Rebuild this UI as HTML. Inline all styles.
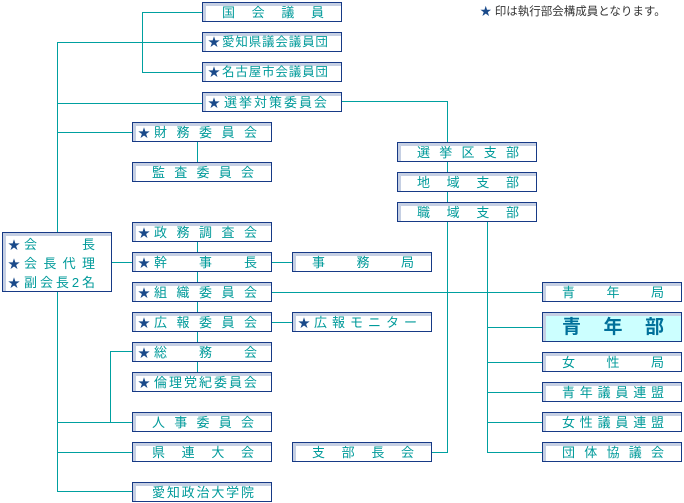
<!DOCTYPE html>
<html><head><meta charset="utf-8"><style>
body{margin:0;width:684px;height:503px;background:#fff;position:relative;overflow:hidden;font-family:"Liberation Sans","Noto Sans CJK JP",sans-serif;}
.b{position:absolute;box-sizing:border-box;width:140px;height:20px;border:1px solid #173a86;box-shadow:inset 3px 3px 0 #c5cfe3;background:#fff;display:flex;justify-content:space-between;align-items:center;font-size:13px;color:#009a9a;line-height:1;}
.b span{white-space:nowrap}
.b i{font-style:normal;color:#1a4a8a;font-size:12px;margin-right:4px}
.s{padding:1px 14px 0 5px}
.t{padding:1px 13px 0 5px;font-size:12.5px}
.t i{margin-right:2px}
.n{padding:1px 17px 0 19px}
.h{position:absolute;height:1px;background:#00a0a0}
.v{position:absolute;width:1px;background:#00a0a0}
</style></head><body>
<div style="position:absolute;left:480px;top:3px;font-size:11.5px;color:#333"><span style="color:#1a4a8a">★</span> 印は執行部会構成員となります。</div>

<div class="v" style="left:142px;top:12px;height:61px"></div>
<div class="h" style="left:142px;top:12px;width:60px"></div>
<div class="h" style="left:142px;top:72px;width:60px"></div>
<div class="v" style="left:57px;top:42px;height:190px"></div>
<div class="h" style="left:57px;top:42px;width:145px"></div>
<div class="h" style="left:57px;top:103px;width:145px"></div>
<div class="h" style="left:57px;top:132px;width:75px"></div>
<div class="v" style="left:197px;top:141px;height:21px"></div>
<div class="h" style="left:341px;top:101px;width:106px"></div>
<div class="v" style="left:447px;top:101px;height:41px"></div>
<div class="v" style="left:447px;top:161px;height:292px"></div>
<div class="h" style="left:431px;top:452px;width:17px"></div>
<div class="v" style="left:487px;top:221px;height:232px"></div>
<div class="h" style="left:271px;top:292px;width:271px"></div>
<div class="h" style="left:487px;top:327px;width:55px"></div>
<div class="h" style="left:487px;top:362px;width:55px"></div>
<div class="h" style="left:487px;top:392px;width:55px"></div>
<div class="h" style="left:487px;top:422px;width:55px"></div>
<div class="h" style="left:487px;top:452px;width:55px"></div>
<div class="v" style="left:197px;top:241px;height:131px"></div>
<div class="h" style="left:111px;top:262px;width:21px"></div>
<div class="h" style="left:271px;top:262px;width:21px"></div>
<div class="h" style="left:271px;top:322px;width:21px"></div>
<div class="v" style="left:57px;top:291px;height:201px"></div>
<div class="v" style="left:110px;top:351px;height:72px"></div>
<div class="h" style="left:110px;top:351px;width:22px"></div>
<div class="h" style="left:57px;top:422px;width:75px"></div>
<div class="h" style="left:57px;top:452px;width:75px"></div>
<div class="h" style="left:57px;top:491px;width:75px"></div>

<div class="b n" style="left:202px;top:2px"><span>国</span><span>会</span><span>議</span><span>員</span></div>
<div class="b t" style="left:202px;top:32px"><span><i>★</i>愛</span><span>知</span><span>県</span><span>議</span><span>会</span><span>議</span><span>員</span><span>団</span></div>
<div class="b t" style="left:202px;top:62px"><span><i>★</i>名</span><span>古</span><span>屋</span><span>市</span><span>会</span><span>議</span><span>員</span><span>団</span></div>
<div class="b s" style="left:202px;top:92px"><span><i>★</i>選</span><span>挙</span><span>対</span><span>策</span><span>委</span><span>員</span><span>会</span></div>
<div class="b s" style="left:132px;top:122px"><span><i>★</i>財</span><span>務</span><span>委</span><span>員</span><span>会</span></div>
<div class="b n" style="left:132px;top:162px"><span>監</span><span>査</span><span>委</span><span>員</span><span>会</span></div>
<div class="b s" style="left:132px;top:222px"><span><i>★</i>政</span><span>務</span><span>調</span><span>査</span><span>会</span></div>
<div class="b s" style="left:132px;top:252px"><span><i>★</i>幹</span><span>事</span><span>長</span></div>
<div class="b s" style="left:132px;top:282px"><span><i>★</i>組</span><span>織</span><span>委</span><span>員</span><span>会</span></div>
<div class="b s" style="left:132px;top:312px"><span><i>★</i>広</span><span>報</span><span>委</span><span>員</span><span>会</span></div>
<div class="b s" style="left:132px;top:342px"><span><i>★</i>総</span><span>務</span><span>会</span></div>
<div class="b s" style="left:132px;top:372px"><span><i>★</i>倫</span><span>理</span><span>党</span><span>紀</span><span>委</span><span>員</span><span>会</span></div>
<div class="b n" style="left:132px;top:412px"><span>人</span><span>事</span><span>委</span><span>員</span><span>会</span></div>
<div class="b n" style="left:132px;top:442px"><span>県</span><span>連</span><span>大</span><span>会</span></div>
<div class="b n" style="left:132px;top:482px"><span>愛</span><span>知</span><span>政</span><span>治</span><span>大</span><span>学</span><span>院</span></div>
<div class="b n" style="left:292px;top:252px"><span>事</span><span>務</span><span>局</span></div>
<div class="b s" style="left:292px;top:312px"><span><i>★</i>広</span><span>報</span><span>モ</span><span>ニ</span><span>タ</span><span>ー</span></div>
<div class="b n" style="left:292px;top:442px"><span>支</span><span>部</span><span>長</span><span>会</span></div>
<div class="b n" style="left:397px;top:142px"><span>選</span><span>挙</span><span>区</span><span>支</span><span>部</span></div>
<div class="b n" style="left:397px;top:172px"><span>地</span><span>域</span><span>支</span><span>部</span></div>
<div class="b n" style="left:397px;top:202px"><span>職</span><span>域</span><span>支</span><span>部</span></div>
<div class="b n" style="left:542px;top:282px"><span>青</span><span>年</span><span>局</span></div>
<div class="b n" style="left:542px;top:312px;height:30px;background:#ccffff;font-size:19px;font-weight:bold;color:#00709a"><span>青</span><span>年</span><span>部</span></div>
<div class="b n" style="left:542px;top:352px"><span>女</span><span>性</span><span>局</span></div>
<div class="b n" style="left:542px;top:382px"><span>青</span><span>年</span><span>議</span><span>員</span><span>連</span><span>盟</span></div>
<div class="b n" style="left:542px;top:412px"><span>女</span><span>性</span><span>議</span><span>員</span><span>連</span><span>盟</span></div>
<div class="b n" style="left:542px;top:442px"><span>団</span><span>体</span><span>協</span><span>議</span><span>会</span></div>

<div class="b" style="left:2px;top:232px;width:110px;height:60px;display:block;padding:2px 16px 0 5px">
 <div style="display:flex;justify-content:space-between;height:19px;align-items:center"><span><i>★</i>会</span><span>長</span></div>
 <div style="display:flex;justify-content:space-between;height:19px;align-items:center"><span><i>★</i>会</span><span>長</span><span>代</span><span>理</span></div>
 <div style="display:flex;justify-content:space-between;height:19px;align-items:center"><span><i>★</i>副</span><span>会</span><span>長</span><span>2</span><span>名</span></div>
</div>
</body></html>
